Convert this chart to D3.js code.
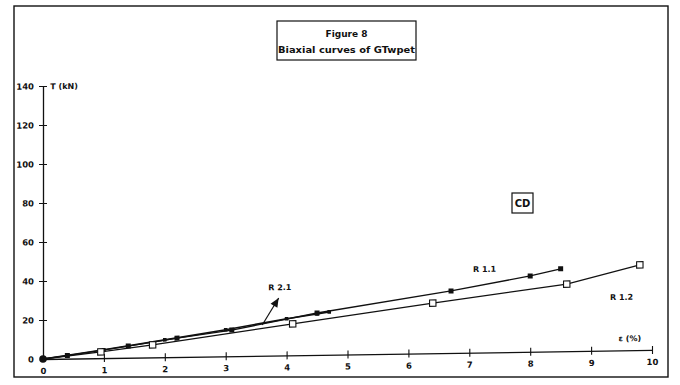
<!DOCTYPE html>
<html>
<head>
<meta charset="utf-8">
<script src="https://cdn.jsdelivr.net/npm/d3@7"></script>
<style>
  html, body { margin: 0; padding: 0; background: #fff; }
  svg { display: block; }
  text { font-family: "DejaVu Sans", sans-serif; font-weight: bold; fill: #111; }
</style>
</head>
<body>
<svg id="chart" width="680" height="385"></svg>
<script>
// Strain ε (%) vs tensile force T (kN) for the biaxial tests
const xTicks = [0, 1, 2, 3, 4, 5, 6, 7, 8, 9, 10];
const yTicks = [0, 20, 40, 60, 80, 100, 120, 140];

const r11Strain = [0, 0.4, 1.4, 2.2, 3.1, 4.5, 6.7, 8.0, 8.5];
const r11Force  = [0, 1.6, 6.0, 9.7, 13.4, 21.5, 31.8, 38.9, 42.3];

const r12Strain = [0, 0.95, 1.8, 4.1, 6.4, 8.6, 9.8];
const r12Force  = [0, 3.2, 6.4, 16.1, 25.7, 34.4, 43.7];

const r21Strain = [0, 1.0, 2.0, 3.0, 4.0, 4.5, 4.7];
const r21Force  = [0, 4.3, 8.9, 13.6, 18.8, 21.0, 22.0];

const titleLines = ["Figure 8", "Biaxial curves of GTwpet"];

const svg = d3.select("#chart");
const ink = "#111";

// outer frame
svg.append("rect")
  .attr("x", 14).attr("y", 6).attr("width", 654).attr("height", 371)
  .attr("fill", "none").attr("stroke", ink).attr("stroke-width", 1.4);

// title box
svg.append("rect")
  .attr("x", 277).attr("y", 21).attr("width", 139).attr("height", 39)
  .attr("fill", "none").attr("stroke", ink).attr("stroke-width", 1.2);
svg.append("text").attr("x", 346.5).attr("y", 36.5).attr("text-anchor", "middle")
  .attr("font-size", 9).text(titleLines[0]);
svg.append("text").attr("x", 346.5).attr("y", 53).attr("text-anchor", "middle")
  .attr("font-size", 9).attr("textLength", 137).attr("lengthAdjust", "spacingAndGlyphs")
  .text(titleLines[1]);

// plot area, slightly sheared like the printed sheet
const W = 609, H = 273;
const x = d3.scaleLinear().domain([0, 10]).range([0, W]);
const y = d3.scaleLinear().domain([0, 140]).range([0, -H]);

const g = svg.append("g").attr("transform", "translate(43,359) skewY(-0.85)");

// x axis
const xAxis = g.append("g")
  .call(d3.axisBottom(x).tickValues(xTicks).tickSize(4).tickSizeOuter(0).tickPadding(5).tickFormat(d3.format("d")));
xAxis.select(".domain").attr("stroke", ink).attr("stroke-width", 1.3);
xAxis.selectAll(".tick line").attr("y1", -4).attr("y2", 4).attr("stroke", ink).attr("stroke-width", 1.1);
xAxis.selectAll(".tick").filter(d => d === 0).select("line").remove();
xAxis.selectAll(".tick text").attr("font-size", 8.5).attr("font-family", "DejaVu Sans").attr("font-weight", "bold").attr("fill", ink);

// y axis
const yAxis = g.append("g")
  .call(d3.axisLeft(y).tickValues(yTicks).tickSize(4).tickSizeOuter(0).tickPadding(5).tickFormat(d3.format("d")));
yAxis.select(".domain").attr("stroke", ink).attr("stroke-width", 1.3);
yAxis.selectAll(".tick line").attr("x1", -4).attr("x2", 4).attr("stroke", ink).attr("stroke-width", 1.1);
yAxis.selectAll(".tick").filter(d => d === 0).select("line").remove();
yAxis.selectAll(".tick text").attr("font-size", 8.5).attr("font-family", "DejaVu Sans").attr("font-weight", "bold").attr("fill", ink);

// axis titles
g.append("text").attr("x", x(0.12)).attr("y", y(138.3)).attr("font-size", 8).text("T (kN)");
g.append("text").attr("x", x(9.45)).attr("y", y(4.7)).attr("font-size", 8).text("ε (%)");

// series
const line = d3.line().x(d => x(d[0])).y(d => y(d[1]));
const zip = (a, b) => a.map((v, i) => [v, b[i]]);
const r11 = zip(r11Strain, r11Force);
const r12 = zip(r12Strain, r12Force);
const r21 = zip(r21Strain, r21Force);

g.append("path").datum(r21).attr("d", line).attr("fill", "none").attr("stroke", ink).attr("stroke-width", 1.6);
g.append("path").datum(r12).attr("d", line).attr("fill", "none").attr("stroke", ink).attr("stroke-width", 1.3);
g.append("path").datum(r11).attr("d", line).attr("fill", "none").attr("stroke", ink).attr("stroke-width", 1.3);

// R 2.1 small markers
g.selectAll(".m21").data(r21.slice(1)).enter().append("rect")
  .attr("x", d => x(d[0]) - 1.8).attr("y", d => y(d[1]) - 1.8)
  .attr("width", 3.6).attr("height", 3.6).attr("fill", ink);

// R 1.2 open squares
g.selectAll(".m12").data(r12.slice(1)).enter().append("rect")
  .attr("x", d => x(d[0]) - 3.2).attr("y", d => y(d[1]) - 3.2)
  .attr("width", 6.4).attr("height", 6.4).attr("fill", "#fff").attr("stroke", ink).attr("stroke-width", 1.1);

// R 1.1 filled squares
g.selectAll(".m11").data(r11.slice(1)).enter().append("rect")
  .attr("x", d => x(d[0]) - 2.5).attr("y", d => y(d[1]) - 2.5)
  .attr("width", 5).attr("height", 5).attr("fill", ink);

// common origin
g.append("circle").attr("cx", x(0)).attr("cy", y(0)).attr("r", 3.8).attr("fill", ink);

// series labels
g.append("text").attr("x", x(7.06)).attr("y", y(41.3)).attr("font-size", 8).text("R 1.1");
g.append("text").attr("x", x(9.31)).attr("y", y(25.9)).attr("font-size", 8).text("R 1.2");
g.append("text").attr("x", x(3.7)).attr("y", y(33.5)).attr("font-size", 8).text("R 2.1");

// pointer from the R 2.1 label to its curve
const tail = [x(3.6), y(15.8)], head = [x(3.87), y(29.5)];
g.append("line").attr("x1", tail[0]).attr("y1", tail[1]).attr("x2", head[0]).attr("y2", head[1])
  .attr("stroke", ink).attr("stroke-width", 1.2);
const ang = Math.atan2(head[1] - tail[1], head[0] - tail[0]);
const hl = 9, hw = 4;
const bx = head[0] - hl * Math.cos(ang), by = head[1] - hl * Math.sin(ang);
g.append("path")
  .attr("d", `M${head[0]},${head[1]} L${bx + hw * Math.sin(ang)},${by - hw * Math.cos(ang)} L${bx - hw * Math.sin(ang)},${by + hw * Math.cos(ang)} Z`)
  .attr("fill", ink);

// CD tag
svg.append("rect").attr("x", 512).attr("y", 193).attr("width", 21).attr("height", 20)
  .attr("fill", "none").attr("stroke", ink).attr("stroke-width", 1.2);
svg.append("text").attr("x", 522.5).attr("y", 207).attr("text-anchor", "middle")
  .attr("font-size", 10).text("CD");
</script>
</body>
</html>
